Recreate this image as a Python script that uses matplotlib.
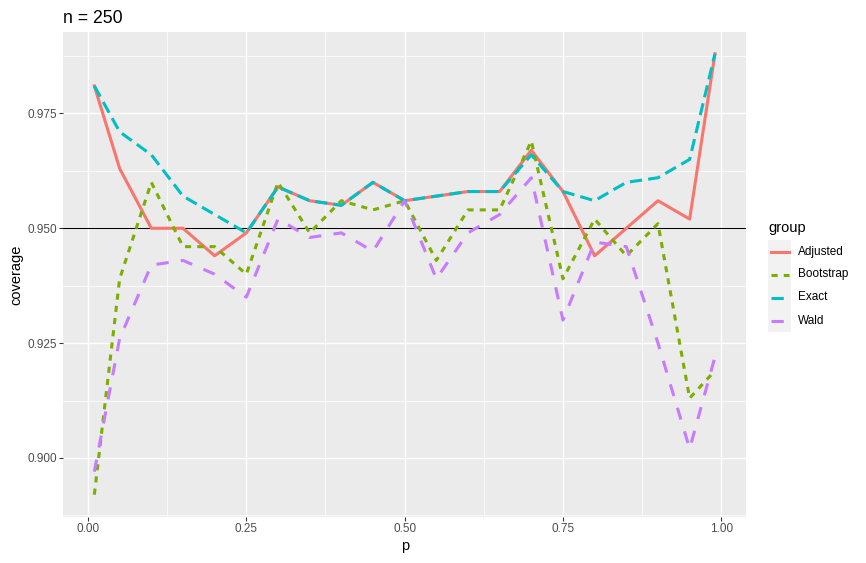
import numpy as np
import matplotlib
matplotlib.use('Agg')
import matplotlib.pyplot as plt
import matplotlib.lines as lines
from matplotlib.ticker import MultipleLocator

# coverage of four interval methods, n = 250
p = [0.01, 0.05, 0.10, 0.15, 0.20, 0.25, 0.30, 0.35, 0.40, 0.45, 0.50,
     0.55, 0.60, 0.65, 0.70, 0.75, 0.80, 0.85, 0.90, 0.95, 0.99]

adjusted = [0.981, 0.963, 0.950, 0.950, 0.944, 0.949, 0.959, 0.956, 0.955, 0.960, 0.956,
            0.957, 0.958, 0.958, 0.967, 0.958, 0.944, 0.950, 0.956, 0.952, 0.988]
bootstrap = [0.892, 0.939, 0.960, 0.946, 0.946, 0.940, 0.960, 0.949, 0.956, 0.954, 0.956,
             0.943, 0.954, 0.954, 0.969, 0.939, 0.952, 0.944, 0.951, 0.913, 0.919]
exact = [0.981, 0.971, 0.966, 0.957, 0.953, 0.949, 0.959, 0.956, 0.955, 0.960, 0.956,
         0.957, 0.958, 0.958, 0.966, 0.958, 0.956, 0.960, 0.961, 0.965, 0.988]
wald = [0.897, 0.926, 0.942, 0.943, 0.940, 0.935, 0.952, 0.948, 0.949, 0.945, 0.956,
        0.939, 0.949, 0.953, 0.961, 0.930, 0.947, 0.946, 0.925, 0.902, 0.922]

groups = ['Adjusted', 'Bootstrap', 'Exact', 'Wald']
series = [adjusted, bootstrap, exact, wald]
colors = ['#F8766D', '#7CAE00', '#00BFC4', '#C77CFF']
dashes = [None, (2, 2), (4, 2), (4, 4)]

DPI = 96
W, H = 866, 563
LW = 2.3

fig = plt.figure(figsize=(W / DPI, H / DPI), dpi=DPI)
plt.rcParams['font.family'] = ['Liberation Sans', 'DejaVu Sans']

# panel in pixels: left, top, right, bottom
px_l, px_t, px_r, px_b = 63.3, 31.7, 746.0, 516.7
ax = fig.add_axes([px_l / W, 1 - px_b / H, (px_r - px_l) / W, (px_b - px_t) / H])
ax.set_facecolor('#EBEBEB')
for s in ax.spines.values():
    s.set_visible(False)

allv = np.concatenate([np.array(s) for s in series])
ymin, ymax = allv.min(), allv.max()
yr = ymax - ymin
xr = max(p) - min(p)
ax.set_xlim(min(p) - 0.05 * xr, max(p) + 0.05 * xr)
ax.set_ylim(ymin - 0.05 * yr, ymax + 0.05 * yr)

ax.xaxis.set_major_locator(MultipleLocator(0.25))
ax.xaxis.set_minor_locator(MultipleLocator(0.125))
ax.yaxis.set_major_locator(MultipleLocator(0.025))
ax.yaxis.set_minor_locator(MultipleLocator(0.0125))
ax.xaxis.set_major_formatter(matplotlib.ticker.FormatStrFormatter('%.2f'))
ax.yaxis.set_major_formatter(matplotlib.ticker.FormatStrFormatter('%.3f'))
ax.grid(which='major', color='white', linewidth=1.1)
ax.grid(which='minor', color='white', linewidth=0.55)
ax.set_axisbelow(True)
ax.tick_params(which='major', length=2.75, width=0.8, color='#333333',
               labelcolor='#4D4D4D', labelsize=8.8, pad=2.2)
ax.tick_params(which='minor', length=0)

ax.axhline(0.95, color='black', linewidth=0.8, zorder=1)

for name, vals, col, d in zip(groups, series, colors, dashes):
    ln, = ax.plot(p, vals, color=col, linewidth=LW, label=name, zorder=2)
    if d is not None:
        ln.set_dashes(d)
    ln.set_solid_joinstyle('round')
    ln.set_dash_capstyle('butt')

# titles
fig.text(px_l / W, 1 - 23 / H, 'n = 250', fontsize=13.2, ha='left', va='baseline')
fig.text((px_l + px_r) / 2 / W, 1 - 550 / H, 'p', fontsize=11, ha='center', va='baseline')
fig.text(16 / W, 1 - 275 / H, 'coverage', fontsize=11, rotation=90,
         ha='center', va='center')

# legend, ggplot style
fig.text(768 / W, 1 - 228 / H, 'group', fontsize=11, ha='left', va='center')
key_l, key_r, key_t = 767.7, 791.0, 240.0
key_h = 23.0
fig.add_artist(plt.Rectangle((key_l / W, 1 - (key_t + 4 * key_h) / H),
                             (key_r - key_l) / W, 4 * key_h / H,
                             transform=fig.transFigure, facecolor='#F2F2F2',
                             edgecolor='none'))
for i, (name, col, d) in enumerate(zip(groups, colors, dashes)):
    yc = 1 - (key_t + key_h * (i + 0.5)) / H
    kl = lines.Line2D([770.5 / W, 788.5 / W], [yc, yc], color=col, linewidth=LW,
                      transform=fig.transFigure)
    if d is not None:
        kl.set_dashes(d)
    fig.add_artist(kl)
    fig.text(798.3 / W, yc, name, fontsize=8.8, ha='left', va='center')

fig.savefig('out.png', dpi=DPI)
